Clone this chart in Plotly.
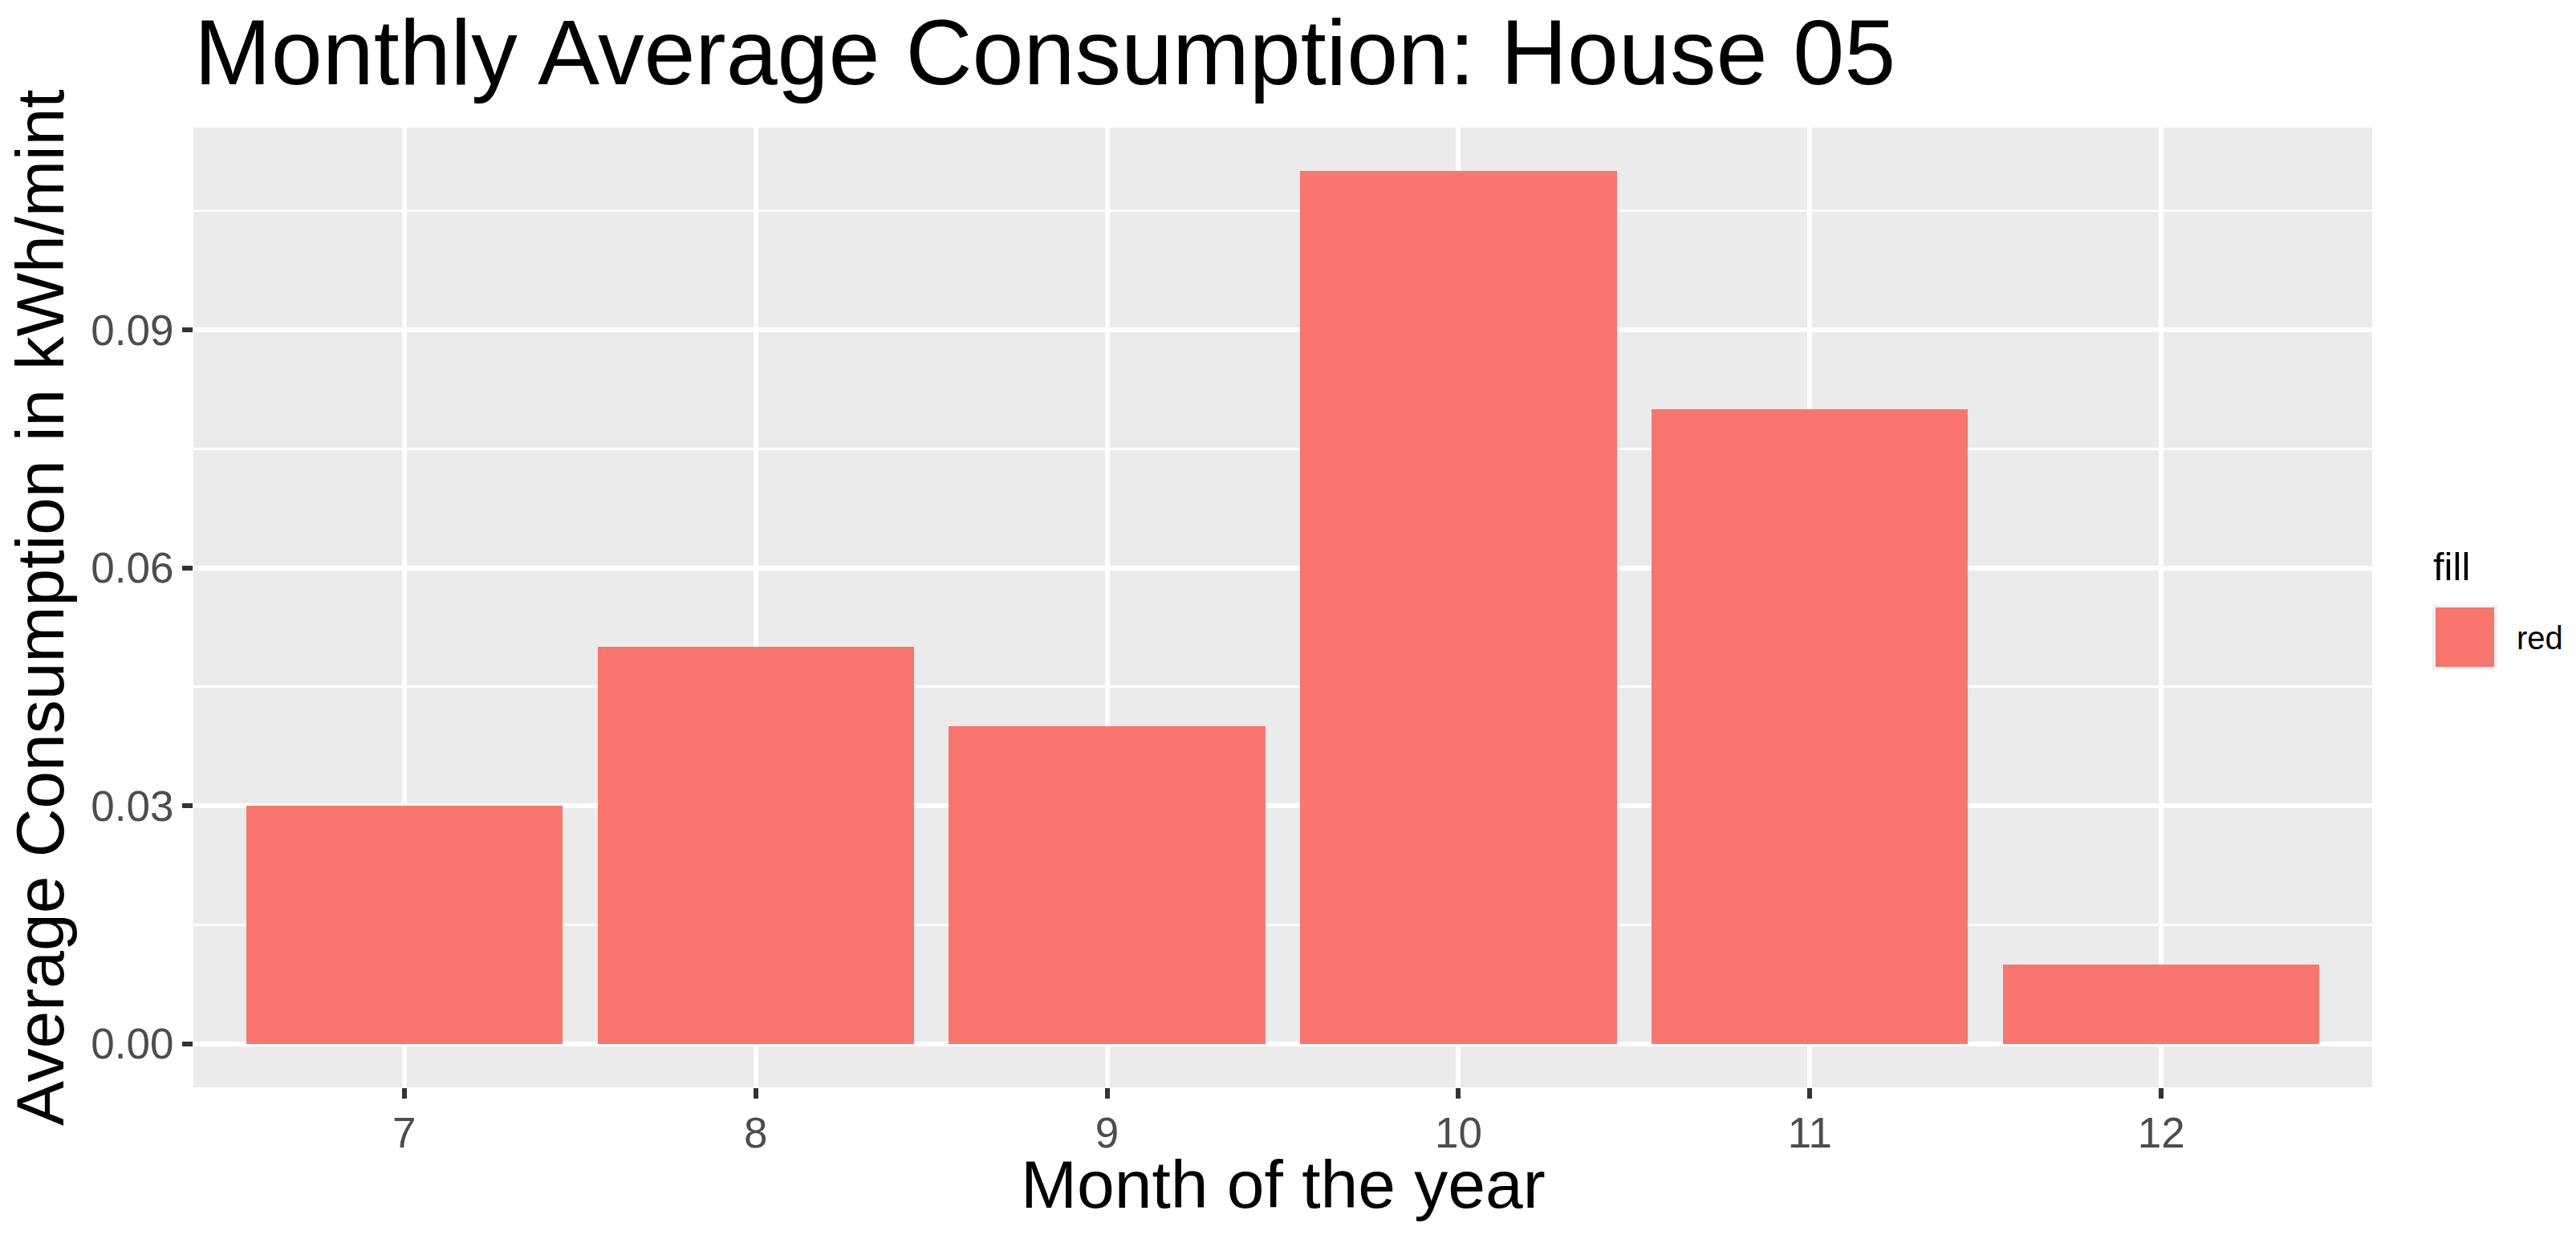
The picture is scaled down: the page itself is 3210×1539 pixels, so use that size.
import plotly.graph_objects as go

# Data
months = [7, 8, 9, 10, 11, 12]
month_labels = ["7", "8", "9", "10", "11", "12"]
avg_consumption = [0.03, 0.05, 0.04, 0.11, 0.08, 0.01]
y_ticks = [0.00, 0.03, 0.06, 0.09]
y_tick_labels = ["0.00", "0.03", "0.06", "0.09"]
y_minor = [0.015, 0.045, 0.075, 0.105]
legend_title = "fill"
legend_label = "red"

W, H = 3210, 1539
L, R, T, B = 241, 254, 159, 184
PW, PH = W - L - R, H - T - B
FONT = "Liberation Sans, Arial, sans-serif"
BAR = "#F8766D"

def px_x(x):
    return (x - L) / PW

def px_y(y):
    return 1 - (y - T) / PH

fig = go.Figure()
fig.add_trace(go.Bar(
    x=months, y=avg_consumption, width=0.9,
    marker=dict(color=BAR, line=dict(width=0)),
    showlegend=False, name=legend_label,
))

ymax = max(avg_consumption)
pad = ymax * 0.05

fig.update_layout(
    width=W, height=H, autosize=False,
    margin=dict(l=L, r=R, t=T, b=B, pad=0),
    paper_bgcolor="white", plot_bgcolor="#EBEBEB",
    font=dict(family=FONT, color="black"),
    bargap=0,
    xaxis=dict(
        range=[months[0] - 0.6, months[-1] + 0.6],
        tickvals=months, ticktext=month_labels,
        showgrid=True, gridcolor="white", gridwidth=6,
        zeroline=False, showline=False,
        ticks="outside", ticklen=13, tickwidth=6, tickcolor="#333333",
        ticklabelstandoff=-3,
        tickfont=dict(size=53, color="#4D4D4D", family=FONT),
        fixedrange=True,
    ),
    yaxis=dict(
        range=[-pad, ymax + pad],
        tickvals=y_ticks, ticktext=y_tick_labels,
        showgrid=True, gridcolor="white", gridwidth=6,
        zeroline=False, showline=False,
        ticks="outside", ticklen=13, tickwidth=6, tickcolor="#333333",
        tickfont=dict(size=53, color="#4D4D4D", family=FONT),
        minor=dict(tickvals=y_minor, showgrid=True, gridcolor="white",
                   gridwidth=3, ticks=""),
        fixedrange=True,
    ),
)

annotations = [
    dict(text="Monthly Average Consumption: House 05", xref="paper", yref="paper",
         x=px_x(240), y=px_y(65), xanchor="left", yanchor="middle",
         showarrow=False, font=dict(size=115, color="black", family=FONT)),
    dict(text="Month of the year", xref="paper", yref="paper",
         x=0.5, y=px_y(1476), xanchor="center", yanchor="middle",
         showarrow=False, font=dict(size=84, color="black", family=FONT)),
    dict(text="Average Consumption in kWh/mint", xref="paper", yref="paper",
         x=px_x(50), y=0.5, xanchor="center", yanchor="middle", textangle=-90,
         showarrow=False, font=dict(size=84, color="black", family=FONT)),
    dict(text=legend_title, xref="paper", yref="paper",
         x=px_x(3030), y=px_y(706), xanchor="left", yanchor="middle",
         showarrow=False, font=dict(size=49, color="black", family=FONT)),
    dict(text=legend_label, xref="paper", yref="paper",
         x=px_x(3134), y=px_y(795), xanchor="left", yanchor="middle",
         showarrow=False, font=dict(size=40, color="black", family=FONT)),
]
fig.update_layout(annotations=annotations)

shapes = [
    dict(type="rect", xref="paper", yref="paper",
         x0=px_x(3031), x1=px_x(3112), y0=px_y(834), y1=px_y(754),
         fillcolor="#F2F2F2", line=dict(width=0), layer="above"),
    dict(type="rect", xref="paper", yref="paper",
         x0=px_x(3035), x1=px_x(3108), y0=px_y(831), y1=px_y(757),
         fillcolor=BAR, line=dict(width=0), layer="above"),
]
fig.update_layout(shapes=shapes)

fig.write_html(
    "out.html",
    config={"displayModeBar": False},
    post_script="document.body.style.margin='0';document.body.style.overflow='hidden';",
)
